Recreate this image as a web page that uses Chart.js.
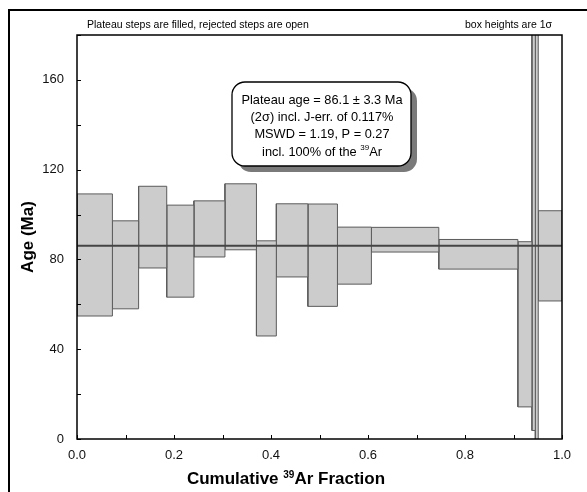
<!DOCTYPE html>
<html><head><meta charset="utf-8">
<script src="https://cdn.jsdelivr.net/npm/chart.js@4.4.0/dist/chart.umd.min.js"></script>
<style>html,body{margin:0;padding:0;background:#fff}</style>
</head><body>
<canvas id="c" width="587" height="492"></canvas>
<script>
// ---- data ----
const stepBoundaries = [0, 0.073, 0.127, 0.185, 0.241, 0.305, 0.370, 0.411, 0.476, 0.537, 0.607, 0.746, 0.909, 0.938, 0.945, 0.951, 1.0];
const stepAges   = [82.0, 77.6, 94.4, 83.7, 93.6, 99.0, 67.1, 88.5, 81.9, 81.7, 88.8, 82.3, 51.1, 120.0, 90.0, 81.6];
const stepErrors = [27.2, 19.6, 18.2, 20.5, 12.5, 14.7, 21.2, 16.3, 22.8, 12.7,  5.5,  6.6, 36.8, 116.2, 150.0, 20.1];
const plateauAge = 86.1;
const plateauLines = ["Plateau age = 86.1 \u00b1 3.3 Ma", "(2\u03c3) incl. J-err. of 0.117%", "MSWD = 1.19, P = 0.27"];
const topLeftNote = "Plateau steps are filled, rejected steps are open";
const topRightNote = "box heights are 1\u03c3";

const FONT = "'Liberation Sans', Arial, sans-serif";

const datasets = [];
datasets.push({
  label: 'plateau', order: -1,
  data: [{x: 0, y: plateauAge}, {x: 1, y: plateauAge}],
  showLine: true, borderColor: '#444', borderWidth: 2, pointRadius: 0, fill: false, clip: 0
});
for (let i = 0; i < stepAges.length; i++) {
  const x0 = stepBoundaries[i], x1 = stepBoundaries[i + 1];
  const lo = stepAges[i] - stepErrors[i], hi = stepAges[i] + stepErrors[i];
  datasets.push({
    label: 'step ' + (i + 1),
    data: [{x: x0, y: lo}, {x: x1, y: lo}, {x: x1, y: hi}, {x: x0, y: hi}, {x: x0, y: lo}],
    showLine: true, fill: 'shape', backgroundColor: '#cccccc', borderColor: '#5c5c5c',
    borderWidth: 1, pointRadius: 0, tension: 0, clip: 0
  });
}

function drawRuns(ctx, runs, cx, cy, align) {
  let w = 0;
  runs.forEach(r => { ctx.font = r.font; r.w = ctx.measureText(r.t).width; w += r.w; });
  let x = align === 'center' ? cx - w / 2 : (align === 'right' ? cx - w : cx);
  ctx.textBaseline = 'middle'; ctx.textAlign = 'left';
  runs.forEach(r => { ctx.font = r.font; ctx.fillText(r.t, x, cy + (r.dy || 0)); x += r.w; });
}

const decor = {
  id: 'decor',
  afterDraw(chart) {
    const ctx = chart.ctx, a = chart.chartArea;
    const xs = chart.scales.x, ys = chart.scales.y;
    ctx.save();
    // outer frame
    ctx.strokeStyle = '#000'; ctx.lineWidth = 2;
    ctx.beginPath(); ctx.moveTo(9, 492); ctx.lineTo(9, 10); ctx.lineTo(587, 10); ctx.stroke();
    // plot border
    ctx.lineWidth = 1.5;
    ctx.strokeRect(a.left, a.top, a.right - a.left, a.bottom - a.top);
    // inward ticks
    ctx.lineWidth = 1;
    ctx.beginPath();
    xs.ticks.forEach(t => { const px = Math.round(xs.getPixelForValue(t.value)) + 0.5; ctx.moveTo(px, a.bottom); ctx.lineTo(px, a.bottom - 4); });
    ys.ticks.forEach(t => { const py = Math.round(ys.getPixelForValue(t.value)) + 0.5; ctx.moveTo(a.left, py); ctx.lineTo(a.left + 4, py); });
    ctx.stroke();
    // top notes
    ctx.fillStyle = '#000';
    ctx.font = '10.5px ' + FONT; ctx.textBaseline = 'middle';
    ctx.textAlign = 'left'; ctx.fillText(topLeftNote, 87, 25);
    ctx.textAlign = 'right'; ctx.fillText(topRightNote, 552, 25);
    // axis titles
    const bold = 'bold 17px ' + FONT, sup = 'bold 10px ' + FONT;
    drawRuns(ctx, [{t: 'Cumulative ', font: bold}, {t: '39', font: sup, dy: -4}, {t: 'Ar Fraction', font: bold}], 286, 479, 'center');
    ctx.save(); ctx.translate(28, 237); ctx.rotate(-Math.PI / 2);
    ctx.font = bold; ctx.textAlign = 'center'; ctx.textBaseline = 'middle'; ctx.fillText('Age (Ma)', 0, 0);
    ctx.restore();
    // annotation box
    const bx = 232, by = 82, bw = 179, bh = 84, r = 13;
    const rr = (x, y) => { ctx.beginPath(); ctx.roundRect(x, y, bw, bh, r); };
    ctx.fillStyle = '#7a7a7a'; rr(bx + 6, by + 6); ctx.fill();
    ctx.fillStyle = '#fff'; rr(bx, by); ctx.fill();
    ctx.strokeStyle = '#000'; ctx.lineWidth = 1.3; rr(bx, by); ctx.stroke();
    ctx.fillStyle = '#000';
    const f = '12.8px ' + FONT;
    const ly = [100, 117.5, 134.5, 152];
    plateauLines.forEach((s, i) => drawRuns(ctx, [{t: s, font: f}], 322, ly[i], 'center'));
    drawRuns(ctx, [{t: 'incl. 100% of the ', font: f}, {t: '39', font: '8px ' + FONT, dy: -4}, {t: 'Ar', font: f}], 322, ly[3], 'center');
    ctx.restore();
  }
};

new Chart(document.getElementById('c'), {
  type: 'scatter',
  data: { datasets },
  options: {
    responsive: false, animation: false, devicePixelRatio: 1,
    layout: { padding: { top: 35, right: 25, left: 0, bottom: 0 } },
    plugins: { legend: { display: false }, tooltip: { enabled: false }, title: { display: false } },
    scales: {
      x: {
        type: 'linear', min: 0, max: 1,
        afterFit: s => { s.height = 53; },
        grid: { display: true, drawOnChartArea: false, drawTicks: false },
        border: { display: false },
        ticks: { stepSize: 0.1, padding: 9, color: '#111', font: { family: FONT, size: 13 },
          callback: v => (Math.round(v * 10) % 2 === 0 ? Number(v).toFixed(1) : '') , autoSkip: false, maxRotation: 0 }
      },
      y: {
        type: 'linear', min: 0, max: 180,
        afterFit: s => { s.width = 77; },
        grid: { display: true, drawOnChartArea: false, drawTicks: false },
        border: { display: false },
        ticks: { stepSize: 20, padding: 13, color: '#111', font: { family: FONT, size: 13 },
          callback: v => (v % 40 === 0 ? String(v) : ''), autoSkip: false }
      }
    }
  },
  plugins: [decor]
});
</script>
</body></html>
